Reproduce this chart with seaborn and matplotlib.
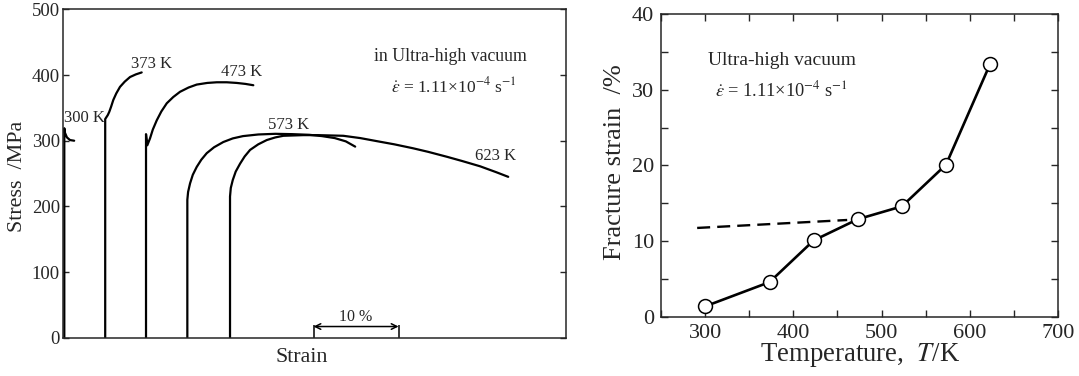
import numpy as np
import pandas as pd
import matplotlib
matplotlib.use("Agg")
import matplotlib.pyplot as plt
from matplotlib.ticker import MultipleLocator
import seaborn as sns

# ---- stress-strain curves (strain in %, stress in MPa), offset along the strain axis
strain_300 = [0.19, 0.19, 0.27, 0.50, 0.86, 1.35]
stress_300 = [0, 319, 312, 305, 301, 300]

strain_373 = [5.0, 5.0, 5.1, 5.3, 5.48, 5.7, 5.95, 6.3, 6.74, 7.3, 7.92, 8.6, 9.29]
stress_373 = [0, 333, 335, 339, 344, 352, 362, 372, 382, 390, 397, 401, 404]

strain_473 = [9.8, 9.8, 9.95, 10.27, 10.6, 11.06, 11.6, 12.24, 13.0, 13.8, 14.8,
              15.76, 17.0, 18.12, 19.3, 20.47, 21.5, 22.42]
stress_473 = [0, 310, 293, 303.5, 317, 331, 344.5, 357, 366.5, 374.5, 381,
              385.5, 388, 389, 389, 388, 386.5, 384.5]

strain_573 = [14.66, 14.66, 14.75, 14.98, 15.3, 15.76, 16.3, 16.94, 17.8, 18.89, 20.0,
              21.2, 23.0, 25.0, 27.0, 29.0, 30.5, 32.0, 33.3, 34.4]
stress_573 = [0, 210, 222, 235, 248, 260, 271, 281, 290, 298, 303.5,
              307, 309.5, 310.5, 310, 309, 307, 304, 299, 291]

strain_623 = [19.68, 19.68, 19.77, 20.0, 20.35, 20.86, 21.4, 22.04, 23.0, 24.0, 25.0,
              25.95, 28.3, 30.0, 33.0, 35.0, 37.3, 39.0, 41.2, 43.0, 45.2, 47.0,
              49.1, 51.0, 52.4]
stress_623 = [0, 215, 228, 240, 253, 265, 276, 286, 294.5, 301, 305,
              307.5, 308.5, 308.5, 307.5, 304, 298.5, 294.5, 288.5, 283, 275.5, 269,
              261, 252, 245]

curve_labels = ["300 K", "373 K", "473 K", "573 K", "623 K"]

# ---- fracture strain vs temperature
temperature = [300, 373, 423, 473, 523, 573, 623]
fracture_strain = [1.4, 4.6, 10.1, 12.9, 14.6, 20.1, 33.4]

trend_T = [291, 461]
trend_strain = [11.75, 12.8]

sns.set_style("ticks")
plt.rcParams["font.family"] = ["Liberation Serif", "DejaVu Serif"]
plt.rcParams["mathtext.fontset"] = "stix"

fig = plt.figure(figsize=(10.79, 3.76), dpi=100)
ax1 = fig.add_axes([0.0581, 0.1019, 0.4665, 0.8731])
ax2 = fig.add_axes([0.6126, 0.157, 0.368, 0.806])

# ---------------- left panel ----------------
curves = pd.concat([
    pd.DataFrame({"strain": s, "stress": t, "T": lab})
    for s, t, lab in zip(
        [strain_300, strain_373, strain_473, strain_573, strain_623],
        [stress_300, stress_373, stress_473, stress_573, stress_623],
        curve_labels)
], ignore_index=True)

sns.lineplot(data=curves, x="strain", y="stress", units="T", estimator=None,
             sort=False, color="black", lw=1.6, ax=ax1, legend=False)

ax1.set_xlim(0, 59.2)
ax1.set_ylim(0, 500)
ax1.set_xticks([])
ax1.yaxis.set_major_locator(MultipleLocator(100))
ax1.tick_params(axis="y", direction="in", left=True, right=True, length=4,
                width=1, labelsize=13.5, pad=2)
for sp in ax1.spines.values():
    sp.set_visible(True)
    sp.set_linewidth(1.1)

label_pos = {"300 K": (2.6, 334), "373 K": (10.4, 417), "473 K": (21.1, 404),
             "573 K": (26.6, 324), "623 K": (50.9, 277)}
for lab, (x, y) in label_pos.items():
    ax1.text(x, y, lab, ha="center", va="center", fontsize=12)

ax1.text(45.6, 428, "in Ultra-high vacuum", ha="center", va="center", fontsize=12.8)
ax1.text(46.0, 383, r"$\dot{\varepsilon}$ = 1.11×10$^{-4}$ s$^{-1}$",
         ha="center", va="center", fontsize=12.5)

# 10 % strain scale bar
ax1.vlines([29.5, 39.5], 0, 20, color="black", lw=1.1)
ax1.annotate("", xy=(29.5, 17), xytext=(39.5, 17),
             arrowprops=dict(arrowstyle="<->", color="black", lw=1.1,
                             shrinkA=0, shrinkB=0))
ax1.text(34.5, 31, "10 %", ha="center", va="center", fontsize=11.5)

ax1.set_xlabel("Strain", fontsize=15.8)
ax1.set_ylabel("Stress  /MPa", fontsize=15.8)
ax1.xaxis.label.set_va("center")
ax1.yaxis.label.set_va("center")
ax1.xaxis.set_label_coords(0.475, -0.059)
ax1.yaxis.set_label_coords(-0.089, 0.49)

# ---------------- right panel ----------------
sns.lineplot(x=trend_T, y=trend_strain, color="black", lw=1.7,
             linestyle=(0, (5.5, 3)), ax=ax2)
sns.lineplot(x=temperature, y=fracture_strain, color="black", lw=1.9,
             marker="o", markersize=10, markerfacecolor="white",
             markeredgecolor="black", markeredgewidth=1.1, ax=ax2)

ax2.set_xlim(250, 700)
ax2.set_ylim(0, 40)
ax2.xaxis.set_major_locator(MultipleLocator(100))
ax2.xaxis.set_minor_locator(MultipleLocator(50))
ax2.yaxis.set_major_locator(MultipleLocator(10))
ax2.yaxis.set_minor_locator(MultipleLocator(5))
ax2.tick_params(which="both", direction="in", top=True, right=True,
                length=5, width=1)
ax2.tick_params(which="major", labelsize=16, pad=5)
for sp in ax2.spines.values():
    sp.set_visible(True)
    sp.set_linewidth(1.1)

ax2.text(387, 33.9, "Ultra-high vacuum", ha="center", va="center", fontsize=14)
ax2.text(387, 29.9, r"$\dot{\varepsilon}$ = 1.11×10$^{-4}$ s$^{-1}$",
         ha="center", va="center", fontsize=13.2)

ax2.set_xlabel(r"Temperature,  $T$/K", fontsize=19.3)
ax2.set_ylabel("Fracture strain  /%", fontsize=19)
ax2.xaxis.label.set_va("center")
ax2.yaxis.label.set_va("center")
ax2.xaxis.set_label_coords(0.501, -0.125)
ax2.yaxis.set_label_coords(-0.116, 0.5125)

fig.savefig("out.png", dpi=100)
